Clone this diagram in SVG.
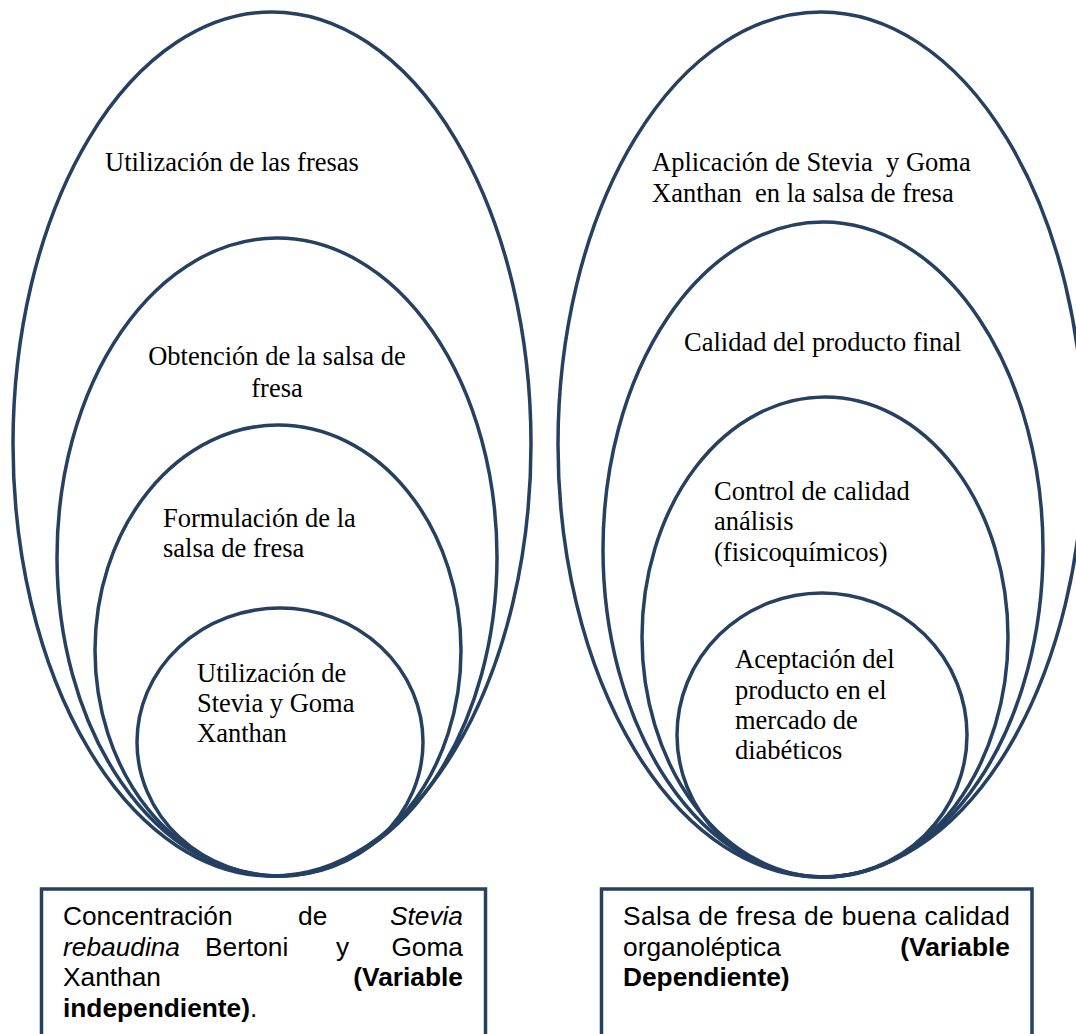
<svg xmlns="http://www.w3.org/2000/svg" width="1076" height="1034" viewBox="0 0 1076 1034">
<style>
.ell{fill:none;stroke:#254061;stroke-width:3.5}
.box{fill:#ffffff;stroke:#254061;stroke-width:3.5}
.t{font-family:"Liberation Serif","Times New Roman",serif;font-size:26.5px;fill:#000}
.a{font-family:"Liberation Sans",Arial,sans-serif;font-size:26.3px;fill:#000}
.b{font-weight:bold}
.i{font-style:italic}
</style>
<rect width="1076" height="1034" fill="#ffffff"/>
<g id="left-set">
<g id="L1"><ellipse class="ell" cx="272" cy="444" rx="259" ry="432"/><text class="t" x="105" y="171">Utilización de las fresas</text></g>
<g id="L2"><ellipse class="ell" cx="277" cy="557" rx="220" ry="319"/><text class="t" x="277" y="365" text-anchor="middle">Obtención de la salsa de</text><text class="t" x="277" y="397" text-anchor="middle">fresa</text></g>
<g id="L3"><ellipse class="ell" cx="278" cy="650.5" rx="183" ry="225.5"/><text class="t" x="163" y="527">Formulación de la</text><text class="t" x="163" y="557">salsa de fresa</text></g>
<g id="L4"><ellipse class="ell" cx="280" cy="742" rx="143" ry="134"/><text class="t" x="197" y="682">Utilización de</text><text class="t" x="197" y="712">Stevia y Goma</text><text class="t" x="197" y="742">Xanthan</text></g>
</g>
<g id="right-set">
<g id="R1"><ellipse class="ell" cx="821" cy="444.5" rx="263" ry="432.5"/><text class="t" x="652" y="171" xml:space="preserve">Aplicación de Stevia  y Goma</text><text class="t" x="652" y="202" xml:space="preserve">Xanthan  en la salsa de fresa</text></g>
<g id="R2"><ellipse class="ell" cx="823" cy="549.5" rx="220" ry="327.5"/><text class="t" x="684" y="351">Calidad del producto final</text></g>
<g id="R3"><ellipse class="ell" cx="825" cy="637" rx="183" ry="240"/><text class="t" x="714" y="500">Control de calidad</text><text class="t" x="714" y="530">análisis</text><text class="t" x="714" y="561">(fisicoquímicos)</text></g>
<g id="R4"><ellipse class="ell" cx="822" cy="735" rx="145" ry="142"/><text class="t" x="735" y="668">Aceptación del</text><text class="t" x="735" y="699">producto en el</text><text class="t" x="735" y="729">mercado de</text><text class="t" x="735" y="759">diabéticos</text></g>
</g>
<g id="box-independiente">
<rect class="box" x="41.5" y="889" width="444" height="160"/>
<text class="a" x="63" y="925">Concentración</text>
<text class="a" x="298" y="925">de</text>
<text class="a i" x="463" y="925" text-anchor="end">Stevia</text>
<text class="a i" x="63" y="956">rebaudina</text>
<text class="a" x="205" y="956">Bertoni</text>
<text class="a" x="336" y="956">y</text>
<text class="a" x="463" y="956" text-anchor="end">Goma</text>
<text class="a" x="63" y="986">Xanthan</text>
<text class="a b" x="463" y="986" text-anchor="end">(Variable</text>
<text class="a" x="63" y="1017"><tspan class="b">independiente)</tspan>.</text>
</g>
<g id="box-dependiente">
<rect class="box" x="601.5" y="889" width="430.5" height="160"/>
<text class="a" x="623" y="925" textLength="387" lengthAdjust="spacing">Salsa de fresa de buena calidad</text>
<text class="a" x="623" y="956">organoléptica</text>
<text class="a b" x="1010" y="956" text-anchor="end">(Variable</text>
<text class="a b" x="623" y="986">Dependiente)</text>
</g>
<g id="connectors"/>
</svg>
